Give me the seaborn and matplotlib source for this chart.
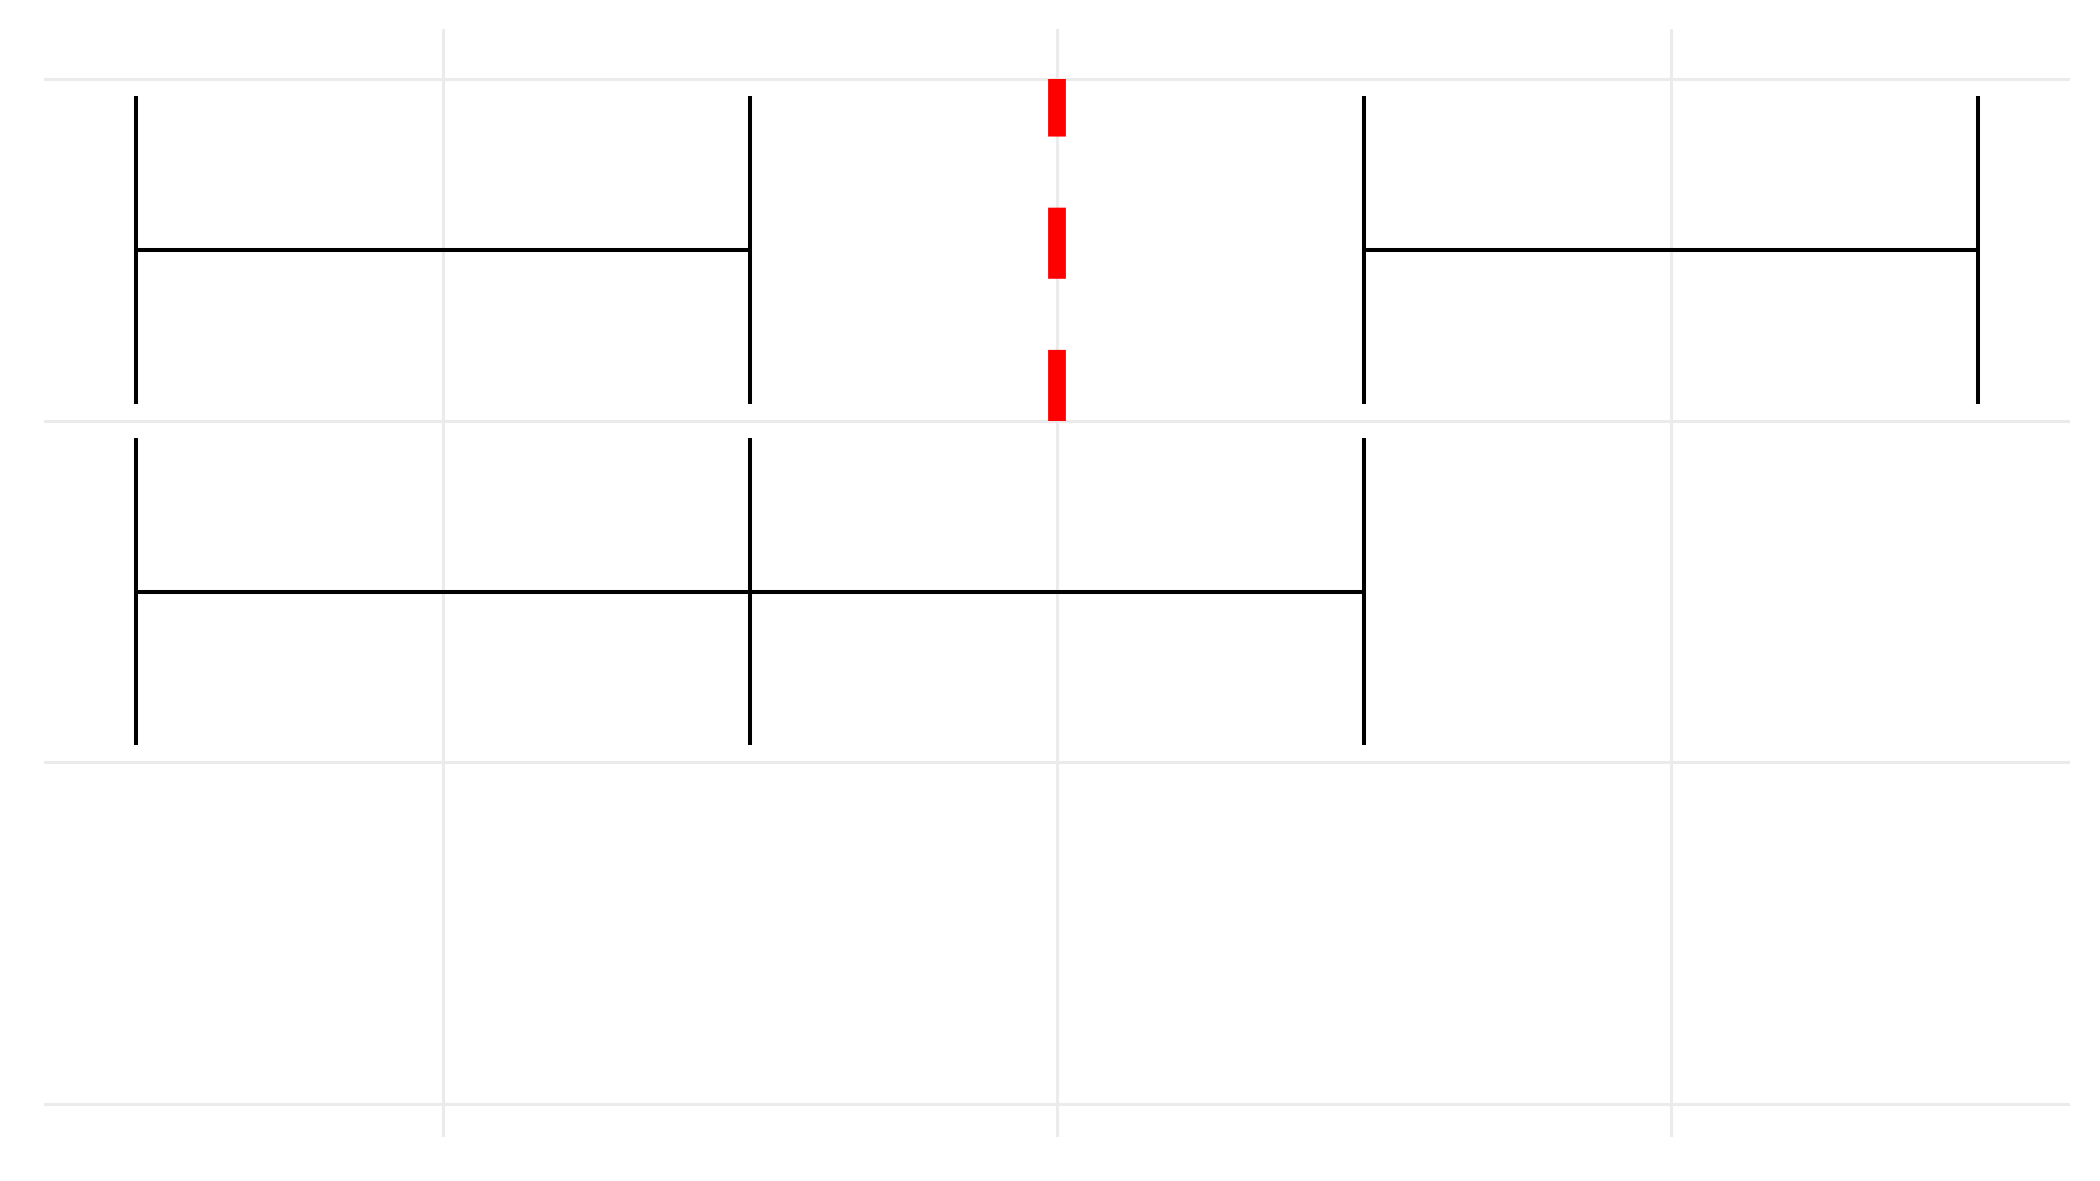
import pandas as pd
import seaborn as sns
import matplotlib.pyplot as plt

# Interval segments: one row per segment (row position on y, start/end on x)
row_pos = [2.5, 2.5, 1.5, 1.5]
seg_start = [0.5, 2.5, 0.5, 1.5]
seg_end = [1.5, 3.5, 1.5, 2.5]

# Third row has no segments, but still takes space at the bottom
empty_rows = [0.5]

# Red reference segment
ref_x = [2.0]
ref_y_from = [2.0]
ref_y_to = [3.0]

x_breaks = [1, 2, 3]
y_breaks = [0, 1, 2, 3]

cap_half = 0.45

df = pd.DataFrame({'row': row_pos, 'start': seg_start, 'end': seg_end})

# Tick positions at every segment end (shared ends drawn once)
caps = pd.concat([
    df[['row', 'start']].rename(columns={'start': 'x'}),
    df[['row', 'end']].rename(columns={'end': 'x'}),
]).drop_duplicates()

sns.set_theme(style='whitegrid')

fig = plt.figure(figsize=(10.5, 5.905), dpi=200)
ax = fig.add_axes([44 / 2100, 1 - 1137 / 1181, 2026 / 2100, 1108 / 1181])

# ggplot-like 5% expansion of the data range
x_lo, x_hi = min(seg_start), max(seg_end)
y_lo = min(row_pos + empty_rows) - cap_half
y_hi = max(ref_y_to + [r + cap_half for r in row_pos])
xpad = (x_hi - x_lo) * 0.05
ypad = (y_hi - y_lo) * 0.05

ax.hlines(df['row'], df['start'], df['end'], color='black', linewidth=1.45, zorder=3)
ax.vlines(caps['x'], caps['row'] - cap_half, caps['row'] + cap_half,
          color='black', linewidth=1.45, zorder=3)

for x, y0, y1 in zip(ref_x, ref_y_from, ref_y_to):
    ax.plot([x, x], [y0, y1], color='#FF0000', linewidth=6.4,
            linestyle=(0, (4, 4)), solid_capstyle='butt', dash_capstyle='butt', zorder=4)

ax.set_xlim(x_lo - xpad, x_hi + xpad)
ax.set_ylim(y_lo - ypad, y_hi + ypad)
ax.set_xticks(x_breaks)
ax.set_yticks(y_breaks)
ax.tick_params(length=0, labelbottom=False, labelleft=False)
ax.grid(True, color='#EBEBEB', linewidth=1.1)
ax.set_facecolor('white')
for s in ax.spines.values():
    s.set_visible(False)

fig.savefig('out.png', dpi=200, facecolor='white')
